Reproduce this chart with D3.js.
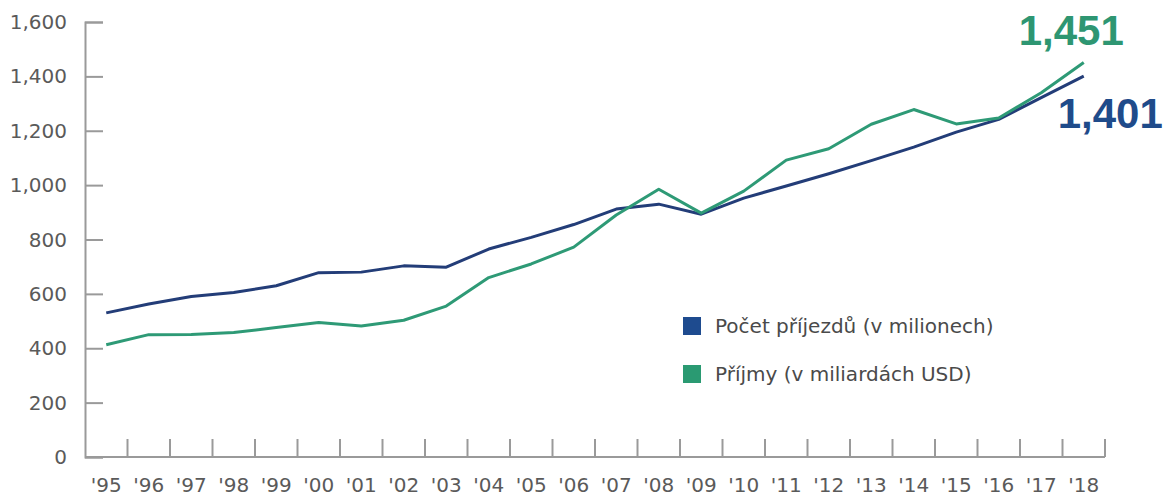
<!DOCTYPE html>
<html>
<head>
<meta charset="utf-8">
<script src="https://cdn.jsdelivr.net/npm/d3@7/dist/d3.min.js"></script>
<style>
  html, body { margin: 0; padding: 0; background: #fff; }
  svg { display: block; font-family: "DejaVu Sans", "Liberation Sans", Arial, sans-serif; }
</style>
</head>
<body>
<svg id="chart" width="1167" height="496"></svg>
<script>
// Tourism arrivals vs receipts, 1995-2018
const years = ["'95", "'96", "'97", "'98", "'99", "'00", "'01", "'02", "'03", "'04", "'05", "'06",
  "'07", "'08", "'09", "'10", "'11", "'12", "'13", "'14", "'15", "'16", "'17", "'18"];

const arrivals = [530, 563, 590, 605, 630, 678, 680, 703, 698, 765, 808, 855,
  912, 930, 893, 952, 997, 1042, 1090, 1140, 1195, 1242, 1322, 1401];

const receipts = [413, 450, 451, 458, 476, 495, 482, 503, 555, 660, 710, 772,
  890, 985, 897, 978, 1092, 1134, 1224, 1278, 1225, 1247, 1340, 1451];

const yTicks = [0, 200, 400, 600, 800, 1000, 1200, 1400, 1600];

const seriesList = [
  { key: "arrivals", label: "Počet příjezdů (v milionech)", values: arrivals, line: "#233d78", swatch: "#1e4b8f", text: "#1f4b8a" },
  { key: "receipts", label: "Příjmy (v miliardách USD)", values: receipts, line: "#2e9a76", swatch: "#2a9a72", text: "#2e9672" },
];

const svg = d3.select("#chart");
const margin = { left: 85, right: 62, top: 22, bottom: 39 };
const width = 1167, height = 496;

const x = d3.scaleBand()
  .domain(years)
  .range([margin.left, width - margin.right]);

const y = d3.scaleLinear()
  .domain([0, 1600])
  .range([height - margin.bottom, margin.top]);

const axisColor = "#9a9a9a";
const labelColor = "#5a5a5a";

// y axis: line with short ticks pointing inward
const yAxis = svg.append("g")
  .attr("transform", `translate(${margin.left},0)`)
  .call(d3.axisRight(y).tickValues(yTicks).tickSize(18).tickFormat(""));
yAxis.select(".domain").attr("stroke", axisColor).attr("stroke-width", 2);
yAxis.selectAll(".tick line").attr("stroke", axisColor).attr("stroke-width", 2);

svg.append("g")
  .selectAll("text")
  .data(yTicks)
  .join("text")
  .attr("x", margin.left - 18)
  .attr("y", (d) => y(d))
  .attr("dy", "0.35em")
  .attr("text-anchor", "end")
  .attr("font-size", 20)
  .attr("fill", labelColor)
  .text((d) => d3.format(",")(d));

// x axis: baseline with upward ticks at band boundaries
const xBase = y(0);
svg.append("line")
  .attr("x1", margin.left)
  .attr("x2", width - margin.right)
  .attr("y1", xBase)
  .attr("y2", xBase)
  .attr("stroke", axisColor)
  .attr("stroke-width", 2);

svg.append("g")
  .selectAll("line")
  .data(years)
  .join("line")
  .attr("x1", (d) => x(d) + x.bandwidth())
  .attr("x2", (d) => x(d) + x.bandwidth())
  .attr("y1", xBase)
  .attr("y2", xBase - 18)
  .attr("stroke", axisColor)
  .attr("stroke-width", 2);

svg.append("g")
  .selectAll("text")
  .data(years)
  .join("text")
  .attr("x", (d) => x(d) + x.bandwidth() / 2)
  .attr("y", xBase + 35)
  .attr("text-anchor", "middle")
  .attr("font-size", 20)
  .attr("fill", labelColor)
  .text((d) => d);

// lines
const line = d3.line()
  .x((d, i) => x(years[i]) + x.bandwidth() / 2)
  .y((d) => y(d));

seriesList.forEach((s) => {
  svg.append("path")
    .datum(s.values)
    .attr("fill", "none")
    .attr("stroke", s.line)
    .attr("stroke-width", 3)
    .attr("stroke-linejoin", "round")
    .attr("d", line);
});

// end value annotations
const lastYear = years[years.length - 1];
const endX = x(lastYear) + x.bandwidth() / 2;
svg.append("text")
  .attr("x", endX + 40)
  .attr("y", 45)
  .attr("text-anchor", "end")
  .attr("font-family", "Liberation Sans, Arial, sans-serif")
  .attr("font-size", 42)
  .attr("font-weight", "bold")
  .attr("fill", seriesList[1].text)
  .text(d3.format(",")(receipts[receipts.length - 1]));

svg.append("text")
  .attr("x", endX + 79)
  .attr("y", 128)
  .attr("text-anchor", "end")
  .attr("font-family", "Liberation Sans, Arial, sans-serif")
  .attr("font-size", 42)
  .attr("font-weight", "bold")
  .attr("fill", seriesList[0].text)
  .text(d3.format(",")(arrivals[arrivals.length - 1]));

// legend
const legend = svg.append("g").attr("transform", "translate(683,317)");
const rows = legend.selectAll("g")
  .data(seriesList)
  .join("g")
  .attr("transform", (d, i) => `translate(0,${i * 48})`);

rows.append("rect")
  .attr("width", 18)
  .attr("height", 18)
  .attr("fill", (d) => d.swatch);

rows.append("text")
  .attr("x", 32)
  .attr("y", 9)
  .attr("dy", "0.35em")
  .attr("font-size", 20)
  .attr("fill", "#4a4a4a")
  .text((d) => d.label);
</script>
</body>
</html>
